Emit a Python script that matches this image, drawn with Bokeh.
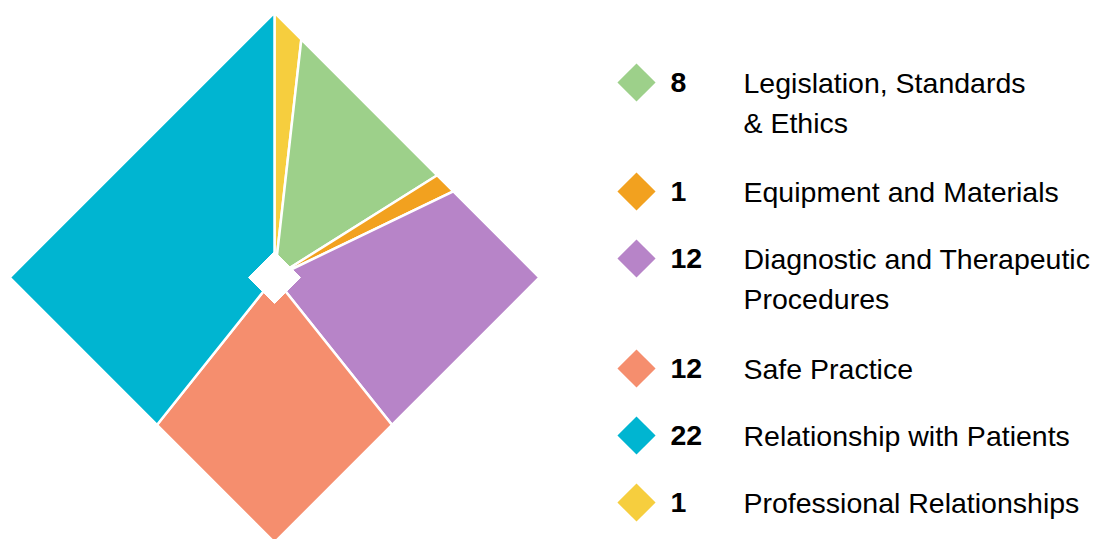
import math
from bokeh.plotting import figure
from bokeh.models import Range1d, ColumnDataSource
from bokeh.core.properties import value
from bokeh.embed import file_html
from bokeh.resources import INLINE

# ---- data (legend order) ----
categories = ["Legislation, Standards\n& Ethics", "Equipment and Materials",
              "Diagnostic and Therapeutic\nProcedures", "Safe Practice",
              "Relationship with Patients", "Professional Relationships"]
counts = [8, 1, 12, 12, 22, 1]
colors = ["#9dd08a", "#f2a11f", "#b784c8", "#f58e6e", "#00b5d1", "#f6ce3e"]
pie_order = [5, 0, 1, 2, 3, 4]   # clockwise from 12 o'clock

# ---- layout (screen-pixel data space) ----
W, H = 1095, 539
CX, CY, R = 274, 277, 265
HOLE = 26
LEG_X, NUM_X, LAB_X = 636, 670, 743
ROW_Y = [82, 191, 258, 368, 435, 502]
FS = 28.5
LINE_GAP = 41

p = figure(width=W, height=H, output_backend="svg", toolbar_location=None,
           x_range=Range1d(0, W), y_range=Range1d(H, 0),
           min_border=0, outline_line_color=None)
p.axis.visible = False
p.grid.visible = False
p.background_fill_color = "white"
p.border_fill_color = "white"


def edge_point(a):
    s, c = math.sin(a), math.cos(a)
    t = R / (abs(s) + abs(c))
    return CX + t * s, CY - t * c


total = sum(counts)
xs, ys, fills = [], [], []
start = 0.0
for i in pie_order:
    a0 = start
    a1 = start + 2 * math.pi * counts[i] / total
    px, py = [CX], [CY]
    pts = [a0]
    for k in range(5):
        corner = k * math.pi / 2
        if a0 < corner < a1:
            pts.append(corner)
    pts.append(a1)
    for a in pts:
        x, y = edge_point(a)
        px.append(x)
        py.append(y)
    xs.append(px)
    ys.append(py)
    fills.append(colors[i])
    start = a1

p.patches(xs=xs, ys=ys, fill_color=fills, line_color="white", line_width=2.5,
          line_join="miter")

# centre hole
p.scatter(x=[CX], y=[CY], marker="square", size=2 * HOLE / math.sqrt(2),
          angle=math.pi / 4, fill_color="white", line_color="white")

# legend
lab_y = [y + c.count("\n") * LINE_GAP / 2 for y, c in zip(ROW_Y, categories)]
src = ColumnDataSource(dict(
    x=[LEG_X] * len(counts), nx=[NUM_X] * len(counts), lx=[LAB_X] * len(counts),
    y=ROW_Y, ly=lab_y, color=colors, num=[str(c) for c in counts], lab=categories))
p.scatter(x="x", y="y", source=src, marker="square", size=27, angle=math.pi / 4,
          fill_color="color", line_color=None)
p.text(x="nx", y="y", text="num", source=src, text_font=value("Liberation Sans"),
       text_font_size=f"{FS}px", text_font_style="bold", text_color="black",
       text_baseline="middle", text_align="left")
p.text(x="lx", y="ly", text="lab", source=src, text_font=value("Liberation Sans"),
       text_font_size=f"{FS}px", text_color="black", text_baseline="middle",
       text_align="left", text_line_height=LINE_GAP / (1.145 * FS))

open("out.html", "w").write(file_html(p, INLINE))
